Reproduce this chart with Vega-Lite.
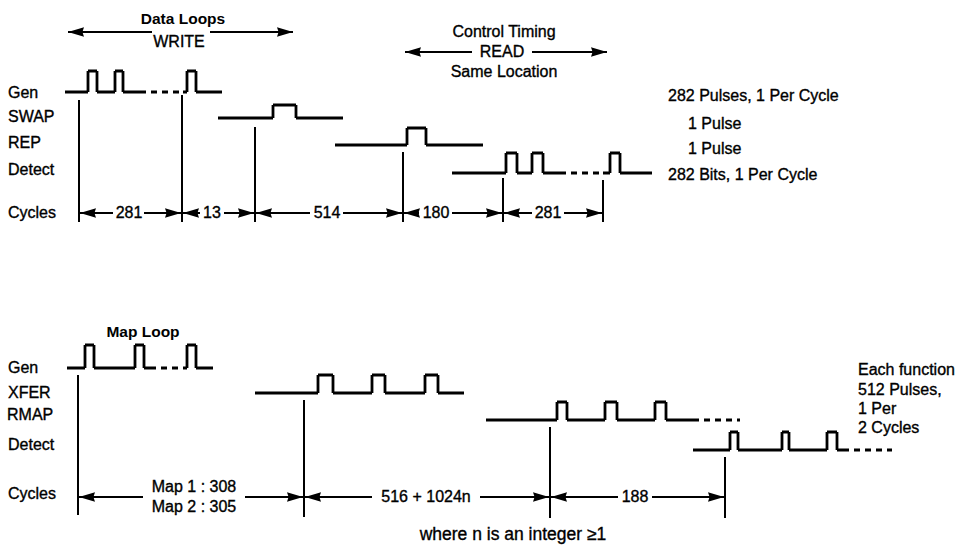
{
  "$schema": "https://vega.github.io/schema/vega-lite/v6.json",
  "width": 966,
  "height": 546,
  "autosize": {"type": "fit", "contains": "padding"},
  "padding": 0,
  "background": "white",
  "config": {"view": {"stroke": null}},
  "datasets": {
    "waves": [
      {"seg": "g1a", "dash": "solid", "i": 1, "x": 65, "y": 92},
      {"seg": "g1a", "dash": "solid", "i": 2, "x": 88, "y": 92},
      {"seg": "g1a", "dash": "solid", "i": 3, "x": 88, "y": 71},
      {"seg": "g1a", "dash": "solid", "i": 4, "x": 97, "y": 71},
      {"seg": "g1a", "dash": "solid", "i": 5, "x": 97, "y": 92},
      {"seg": "g1a", "dash": "solid", "i": 6, "x": 115, "y": 92},
      {"seg": "g1a", "dash": "solid", "i": 7, "x": 115, "y": 71},
      {"seg": "g1a", "dash": "solid", "i": 8, "x": 123, "y": 71},
      {"seg": "g1a", "dash": "solid", "i": 9, "x": 123, "y": 92},
      {"seg": "g1a", "dash": "solid", "i": 10, "x": 140, "y": 92},
      {"seg": "g1b", "dash": "dashed", "i": 1, "x": 140, "y": 92},
      {"seg": "g1b", "dash": "dashed", "i": 2, "x": 183, "y": 92},
      {"seg": "g1c", "dash": "solid", "i": 1, "x": 183, "y": 92},
      {"seg": "g1c", "dash": "solid", "i": 2, "x": 187, "y": 92},
      {"seg": "g1c", "dash": "solid", "i": 3, "x": 187, "y": 71},
      {"seg": "g1c", "dash": "solid", "i": 4, "x": 196, "y": 71},
      {"seg": "g1c", "dash": "solid", "i": 5, "x": 196, "y": 92},
      {"seg": "g1c", "dash": "solid", "i": 6, "x": 222, "y": 92},
      {"seg": "swap", "dash": "solid", "i": 1, "x": 218, "y": 118},
      {"seg": "swap", "dash": "solid", "i": 2, "x": 273, "y": 118},
      {"seg": "swap", "dash": "solid", "i": 3, "x": 273, "y": 105},
      {"seg": "swap", "dash": "solid", "i": 4, "x": 296, "y": 105},
      {"seg": "swap", "dash": "solid", "i": 5, "x": 296, "y": 118},
      {"seg": "swap", "dash": "solid", "i": 6, "x": 343, "y": 118},
      {"seg": "rep", "dash": "solid", "i": 1, "x": 335, "y": 145},
      {"seg": "rep", "dash": "solid", "i": 2, "x": 407, "y": 145},
      {"seg": "rep", "dash": "solid", "i": 3, "x": 407, "y": 128},
      {"seg": "rep", "dash": "solid", "i": 4, "x": 426, "y": 128},
      {"seg": "rep", "dash": "solid", "i": 5, "x": 426, "y": 145},
      {"seg": "rep", "dash": "solid", "i": 6, "x": 483, "y": 145},
      {"seg": "d1a", "dash": "solid", "i": 1, "x": 452, "y": 173},
      {"seg": "d1a", "dash": "solid", "i": 2, "x": 506, "y": 173},
      {"seg": "d1a", "dash": "solid", "i": 3, "x": 506, "y": 153},
      {"seg": "d1a", "dash": "solid", "i": 4, "x": 517, "y": 153},
      {"seg": "d1a", "dash": "solid", "i": 5, "x": 517, "y": 173},
      {"seg": "d1a", "dash": "solid", "i": 6, "x": 532, "y": 173},
      {"seg": "d1a", "dash": "solid", "i": 7, "x": 532, "y": 153},
      {"seg": "d1a", "dash": "solid", "i": 8, "x": 543, "y": 153},
      {"seg": "d1a", "dash": "solid", "i": 9, "x": 543, "y": 173},
      {"seg": "d1a", "dash": "solid", "i": 10, "x": 560, "y": 173},
      {"seg": "d1b", "dash": "dashed", "i": 1, "x": 560, "y": 173},
      {"seg": "d1b", "dash": "dashed", "i": 2, "x": 603, "y": 173},
      {"seg": "d1c", "dash": "solid", "i": 1, "x": 603, "y": 173},
      {"seg": "d1c", "dash": "solid", "i": 2, "x": 610, "y": 173},
      {"seg": "d1c", "dash": "solid", "i": 3, "x": 610, "y": 153},
      {"seg": "d1c", "dash": "solid", "i": 4, "x": 620, "y": 153},
      {"seg": "d1c", "dash": "solid", "i": 5, "x": 620, "y": 173},
      {"seg": "d1c", "dash": "solid", "i": 6, "x": 652, "y": 173},
      {"seg": "g2a", "dash": "solid", "i": 1, "x": 67, "y": 368},
      {"seg": "g2a", "dash": "solid", "i": 2, "x": 85, "y": 368},
      {"seg": "g2a", "dash": "solid", "i": 3, "x": 85, "y": 345},
      {"seg": "g2a", "dash": "solid", "i": 4, "x": 94, "y": 345},
      {"seg": "g2a", "dash": "solid", "i": 5, "x": 94, "y": 368},
      {"seg": "g2a", "dash": "solid", "i": 6, "x": 135, "y": 368},
      {"seg": "g2a", "dash": "solid", "i": 7, "x": 135, "y": 345},
      {"seg": "g2a", "dash": "solid", "i": 8, "x": 144, "y": 345},
      {"seg": "g2a", "dash": "solid", "i": 9, "x": 144, "y": 368},
      {"seg": "g2a", "dash": "solid", "i": 10, "x": 150, "y": 368},
      {"seg": "g2b", "dash": "dashed", "i": 1, "x": 150, "y": 368},
      {"seg": "g2b", "dash": "dashed", "i": 2, "x": 184, "y": 368},
      {"seg": "g2c", "dash": "solid", "i": 1, "x": 184, "y": 368},
      {"seg": "g2c", "dash": "solid", "i": 2, "x": 187, "y": 368},
      {"seg": "g2c", "dash": "solid", "i": 3, "x": 187, "y": 345},
      {"seg": "g2c", "dash": "solid", "i": 4, "x": 196, "y": 345},
      {"seg": "g2c", "dash": "solid", "i": 5, "x": 196, "y": 368},
      {"seg": "g2c", "dash": "solid", "i": 6, "x": 213, "y": 368},
      {"seg": "xfer", "dash": "solid", "i": 1, "x": 255, "y": 393},
      {"seg": "xfer", "dash": "solid", "i": 2, "x": 318, "y": 393},
      {"seg": "xfer", "dash": "solid", "i": 3, "x": 318, "y": 375},
      {"seg": "xfer", "dash": "solid", "i": 4, "x": 333, "y": 375},
      {"seg": "xfer", "dash": "solid", "i": 5, "x": 333, "y": 393},
      {"seg": "xfer", "dash": "solid", "i": 6, "x": 372, "y": 393},
      {"seg": "xfer", "dash": "solid", "i": 7, "x": 372, "y": 375},
      {"seg": "xfer", "dash": "solid", "i": 8, "x": 385, "y": 375},
      {"seg": "xfer", "dash": "solid", "i": 9, "x": 385, "y": 393},
      {"seg": "xfer", "dash": "solid", "i": 10, "x": 425, "y": 393},
      {"seg": "xfer", "dash": "solid", "i": 11, "x": 425, "y": 375},
      {"seg": "xfer", "dash": "solid", "i": 12, "x": 438, "y": 375},
      {"seg": "xfer", "dash": "solid", "i": 13, "x": 438, "y": 393},
      {"seg": "xfer", "dash": "solid", "i": 14, "x": 464, "y": 393},
      {"seg": "rmapa", "dash": "solid", "i": 1, "x": 486, "y": 420},
      {"seg": "rmapa", "dash": "solid", "i": 2, "x": 557, "y": 420},
      {"seg": "rmapa", "dash": "solid", "i": 3, "x": 557, "y": 402},
      {"seg": "rmapa", "dash": "solid", "i": 4, "x": 567, "y": 402},
      {"seg": "rmapa", "dash": "solid", "i": 5, "x": 567, "y": 420},
      {"seg": "rmapa", "dash": "solid", "i": 6, "x": 605, "y": 420},
      {"seg": "rmapa", "dash": "solid", "i": 7, "x": 605, "y": 402},
      {"seg": "rmapa", "dash": "solid", "i": 8, "x": 617, "y": 402},
      {"seg": "rmapa", "dash": "solid", "i": 9, "x": 617, "y": 420},
      {"seg": "rmapa", "dash": "solid", "i": 10, "x": 655, "y": 420},
      {"seg": "rmapa", "dash": "solid", "i": 11, "x": 655, "y": 402},
      {"seg": "rmapa", "dash": "solid", "i": 12, "x": 666, "y": 402},
      {"seg": "rmapa", "dash": "solid", "i": 13, "x": 666, "y": 420},
      {"seg": "rmapa", "dash": "solid", "i": 14, "x": 693, "y": 420},
      {"seg": "rmapb", "dash": "dashed", "i": 1, "x": 693, "y": 420},
      {"seg": "rmapb", "dash": "dashed", "i": 2, "x": 740, "y": 420},
      {"seg": "d2a", "dash": "solid", "i": 1, "x": 693, "y": 450},
      {"seg": "d2a", "dash": "solid", "i": 2, "x": 730, "y": 450},
      {"seg": "d2a", "dash": "solid", "i": 3, "x": 730, "y": 432},
      {"seg": "d2a", "dash": "solid", "i": 4, "x": 738, "y": 432},
      {"seg": "d2a", "dash": "solid", "i": 5, "x": 738, "y": 450},
      {"seg": "d2a", "dash": "solid", "i": 6, "x": 782, "y": 450},
      {"seg": "d2a", "dash": "solid", "i": 7, "x": 782, "y": 432},
      {"seg": "d2a", "dash": "solid", "i": 8, "x": 789, "y": 432},
      {"seg": "d2a", "dash": "solid", "i": 9, "x": 789, "y": 450},
      {"seg": "d2a", "dash": "solid", "i": 10, "x": 827, "y": 450},
      {"seg": "d2a", "dash": "solid", "i": 11, "x": 827, "y": 432},
      {"seg": "d2a", "dash": "solid", "i": 12, "x": 837, "y": 432},
      {"seg": "d2a", "dash": "solid", "i": 13, "x": 837, "y": 450},
      {"seg": "d2a", "dash": "solid", "i": 14, "x": 843, "y": 450},
      {"seg": "d2b", "dash": "dashed", "i": 1, "x": 843, "y": 450},
      {"seg": "d2b", "dash": "dashed", "i": 2, "x": 892, "y": 450}
    ],
    "vlines": [
      {"x": 79, "y": 100, "y2": 222},
      {"x": 182, "y": 95, "y2": 222},
      {"x": 255, "y": 127, "y2": 222},
      {"x": 403, "y": 152, "y2": 222},
      {"x": 503, "y": 178, "y2": 222},
      {"x": 603, "y": 180, "y2": 222},
      {"x": 78, "y": 375, "y2": 515},
      {"x": 304, "y": 400, "y2": 517},
      {"x": 550, "y": 427, "y2": 518},
      {"x": 725, "y": 457, "y2": 518}
    ],
    "hlines": [
      {"x": 68, "x2": 152, "y": 32},
      {"x": 210, "x2": 293, "y": 32},
      {"x": 405, "x2": 472, "y": 52},
      {"x": 532, "x2": 607, "y": 52},
      {"x": 80, "x2": 113, "y": 213},
      {"x": 144, "x2": 181, "y": 213},
      {"x": 183, "x2": 200, "y": 213},
      {"x": 224, "x2": 254, "y": 213},
      {"x": 256, "x2": 310, "y": 213},
      {"x": 343, "x2": 402, "y": 213},
      {"x": 404, "x2": 419, "y": 213},
      {"x": 452, "x2": 502, "y": 213},
      {"x": 504, "x2": 532, "y": 213},
      {"x": 564, "x2": 602, "y": 213},
      {"x": 79, "x2": 143, "y": 497},
      {"x": 245, "x2": 303, "y": 497},
      {"x": 305, "x2": 372, "y": 497},
      {"x": 480, "x2": 549, "y": 497},
      {"x": 551, "x2": 618, "y": 497},
      {"x": 652, "x2": 724, "y": 497}
    ],
    "heads": [
      {"x": 68, "y": 32, "dir": "left"},
      {"x": 293, "y": 32, "dir": "right"},
      {"x": 405, "y": 52, "dir": "left"},
      {"x": 607, "y": 52, "dir": "right"},
      {"x": 80, "y": 213, "dir": "left"},
      {"x": 181, "y": 213, "dir": "right"},
      {"x": 183, "y": 213, "dir": "left"},
      {"x": 254, "y": 213, "dir": "right"},
      {"x": 256, "y": 213, "dir": "left"},
      {"x": 402, "y": 213, "dir": "right"},
      {"x": 404, "y": 213, "dir": "left"},
      {"x": 502, "y": 213, "dir": "right"},
      {"x": 504, "y": 213, "dir": "left"},
      {"x": 602, "y": 213, "dir": "right"},
      {"x": 79, "y": 497, "dir": "left"},
      {"x": 303, "y": 497, "dir": "right"},
      {"x": 305, "y": 497, "dir": "left"},
      {"x": 549, "y": 497, "dir": "right"},
      {"x": 551, "y": 497, "dir": "left"},
      {"x": 724, "y": 497, "dir": "right"}
    ],
    "leftText": [
      {"x": 8, "y": 93, "t": "Gen"},
      {"x": 8, "y": 117, "t": "SWAP"},
      {"x": 8, "y": 143, "t": "REP"},
      {"x": 8, "y": 170, "t": "Detect"},
      {"x": 8, "y": 213, "t": "Cycles"},
      {"x": 668, "y": 96, "t": "282 Pulses, 1 Per Cycle"},
      {"x": 688, "y": 124, "t": "1 Pulse"},
      {"x": 688, "y": 149, "t": "1 Pulse"},
      {"x": 668, "y": 175, "t": "282 Bits, 1 Per Cycle"},
      {"x": 8, "y": 368, "t": "Gen"},
      {"x": 8, "y": 393, "t": "XFER"},
      {"x": 7, "y": 415, "t": "RMAP"},
      {"x": 8, "y": 445, "t": "Detect"},
      {"x": 8, "y": 494, "t": "Cycles"},
      {"x": 858, "y": 370, "t": "Each function"},
      {"x": 858, "y": 390, "t": "512 Pulses,"},
      {"x": 858, "y": 409, "t": "1 Per"},
      {"x": 858, "y": 428, "t": "2 Cycles"}
    ],
    "centerText": [
      {"x": 179, "y": 42, "t": "WRITE"},
      {"x": 504, "y": 32, "t": "Control Timing"},
      {"x": 502, "y": 52, "t": "READ"},
      {"x": 504, "y": 72, "t": "Same Location"},
      {"x": 129, "y": 213, "t": "281"},
      {"x": 212, "y": 213, "t": "13"},
      {"x": 327, "y": 213, "t": "514"},
      {"x": 436, "y": 213, "t": "180"},
      {"x": 548, "y": 213, "t": "281"},
      {"x": 194, "y": 487, "t": "Map 1 : 308"},
      {"x": 194, "y": 507, "t": "Map 2 : 305"},
      {"x": 426, "y": 497, "t": "516 + 1024n"},
      {"x": 635, "y": 497, "t": "188"}
    ],
    "noteText": [
      {"x": 513, "y": 535, "t": "where n is an integer ≥1"}
    ],
    "boldText": [
      {"x": 183, "y": 19, "t": "Data Loops"},
      {"x": 143, "y": 332, "t": "Map Loop"}
    ]
  },
  "encoding": {
    "x": {"field": "x", "type": "quantitative", "scale": {"domain": [0, 966], "nice": false, "zero": false}, "axis": null},
    "y": {"field": "y", "type": "quantitative", "scale": {"domain": [0, 546], "nice": false, "zero": false, "reverse": true}, "axis": null}
  },
  "layer": [
    {
      "data": {"name": "waves"},
      "mark": {"type": "line", "color": "black", "strokeWidth": 2.8, "strokeJoin": "miter", "strokeCap": "butt"},
      "encoding": {
        "detail": {"field": "seg", "type": "nominal"},
        "order": {"field": "i", "type": "quantitative"},
        "strokeDash": {"field": "dash", "type": "nominal", "scale": {"domain": ["solid", "dashed"], "range": [[1, 0], [6, 5]]}, "legend": null}
      }
    },
    {
      "data": {"name": "vlines"},
      "mark": {"type": "rule", "color": "black", "strokeWidth": 2},
      "encoding": {"y2": {"field": "y2"}}
    },
    {
      "data": {"name": "hlines"},
      "mark": {"type": "rule", "color": "black", "strokeWidth": 2},
      "encoding": {"x2": {"field": "x2"}}
    },
    {
      "data": {"name": "heads"},
      "mark": {"type": "point", "filled": true, "color": "black", "opacity": 1, "size": 256, "strokeWidth": 0},
      "encoding": {
        "shape": {"field": "dir", "type": "nominal", "scale": {"domain": ["left", "right"], "range": ["M0,0L2,-0.6L1.8,0L2,0.6Z", "M0,0L-2,-0.6L-1.8,0L-2,0.6Z"]}, "legend": null}
      }
    },
    {
      "data": {"name": "leftText"},
      "mark": {"type": "text", "align": "left", "baseline": "middle", "font": "Liberation Sans", "fontSize": 16, "color": "black", "stroke": "black", "strokeWidth": 0.35},
      "encoding": {"text": {"field": "t", "type": "nominal"}}
    },
    {
      "data": {"name": "centerText"},
      "mark": {"type": "text", "align": "center", "baseline": "middle", "font": "Liberation Sans", "fontSize": 16, "color": "black", "stroke": "black", "strokeWidth": 0.35},
      "encoding": {"text": {"field": "t", "type": "nominal"}}
    },
    {
      "data": {"name": "noteText"},
      "mark": {"type": "text", "align": "center", "baseline": "middle", "font": "Liberation Sans", "fontSize": 17.5, "color": "black", "stroke": "black", "strokeWidth": 0.35},
      "encoding": {"text": {"field": "t", "type": "nominal"}}
    },
    {
      "data": {"name": "boldText"},
      "mark": {"type": "text", "align": "center", "baseline": "middle", "font": "Liberation Sans", "fontSize": 15.5, "fontWeight": "bold", "color": "black"},
      "encoding": {"text": {"field": "t", "type": "nominal"}}
    }
  ]
}
